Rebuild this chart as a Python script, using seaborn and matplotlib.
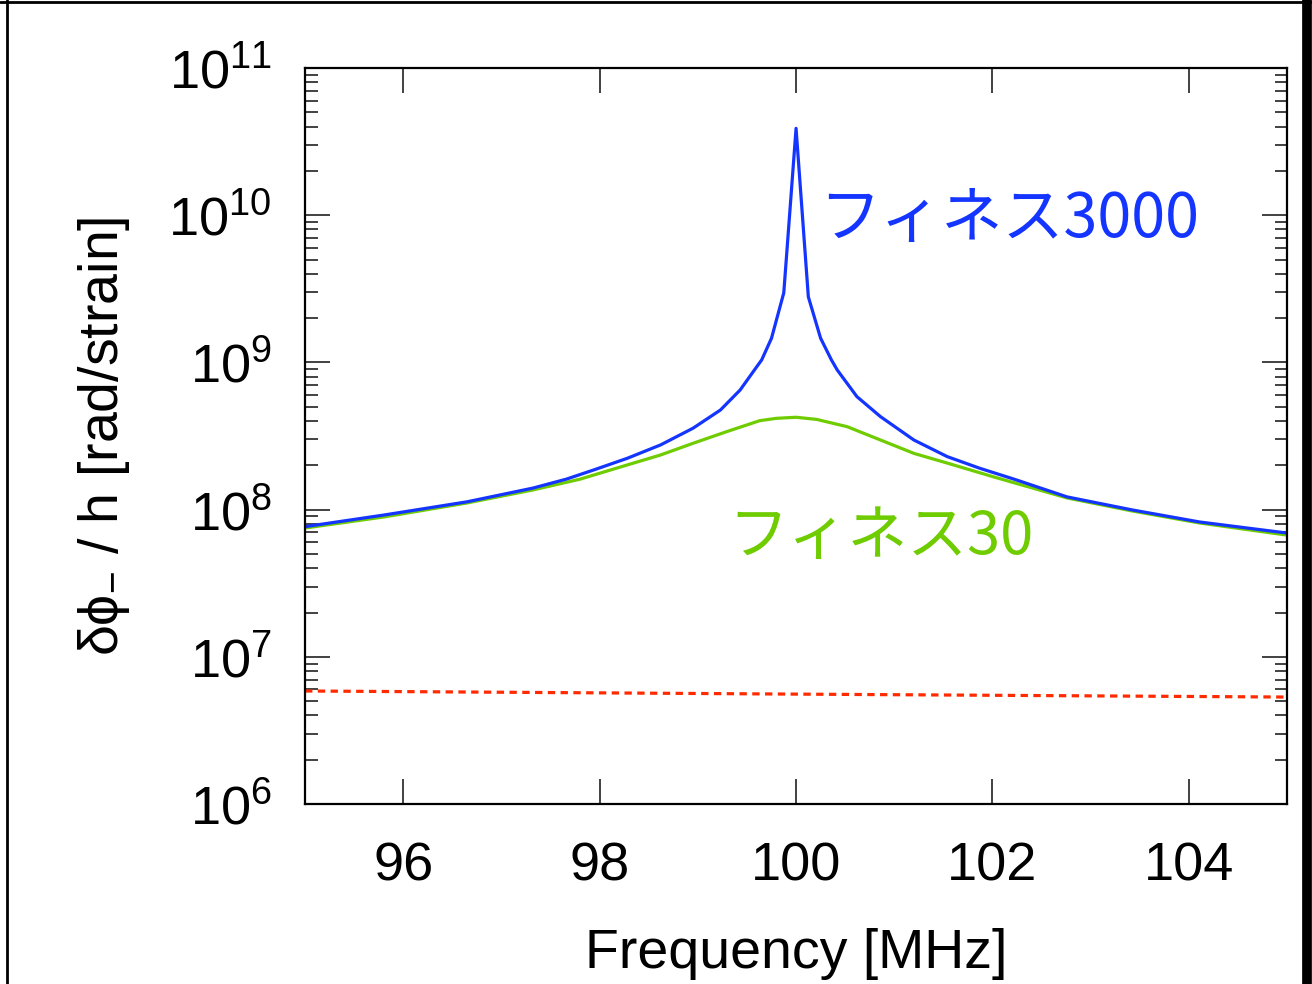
import numpy as np
import pandas as pd
import matplotlib
matplotlib.use("Agg")
import matplotlib.pyplot as plt
import matplotlib.ticker as mticker
from matplotlib.lines import Line2D
import seaborn as sns

# ---- data ----
freq_3000 = [95.0, 95.8, 96.65, 97.32, 97.66, 97.94, 98.28, 98.62, 98.95, 99.23, 99.43,
             99.60, 99.65, 99.75, 99.875, 100.0, 100.125, 100.25, 100.36, 100.42, 100.62,
             100.86, 101.20, 101.54, 101.87, 102.22, 102.76, 103.43, 104.11, 105.0]
resp_3000 = [7.66e7, 9.18e7, 1.13e8, 1.40e8, 1.61e8, 1.86e8, 2.23e8, 2.75e8, 3.57e8, 4.75e8, 6.49e8,
             9.35e8, 1.04e9, 1.46e9, 2.97e9, 3.89e10, 2.79e9, 1.46e9, 1.04e9, 8.87e8, 5.85e8,
             4.28e8, 2.97e8, 2.29e8, 1.91e8, 1.61e8, 1.22e8, 9.93e7, 8.24e7, 6.93e7]

freq_30 = [95.0, 95.8, 96.65, 97.32, 97.80, 98.28, 98.62, 98.95, 99.29, 99.63, 99.80, 100.0,
           100.21, 100.52, 100.86, 101.20, 101.54, 102.01, 102.76, 103.43, 104.11, 105.0]
resp_30 = [7.50e7, 8.91e7, 1.11e8, 1.36e8, 1.61e8, 2.01e8, 2.35e8, 2.82e8, 3.38e8, 4.02e8, 4.17e8, 4.24e8,
           4.10e8, 3.66e8, 2.97e8, 2.41e8, 2.07e8, 1.67e8, 1.20e8, 9.77e7, 8.11e7, 6.71e7]

freq_ref = [95.0, 100.0, 105.0]
resp_ref = [5.86e6, 5.58e6, 5.33e6]

label_3000 = "フィネス3000"
label_30 = "フィネス30"
xticks = [96, 98, 100, 102, 104]

# ---- style ----
sns.set_theme(style="ticks")
plt.rcParams['font.family'] = ['Liberation Sans', 'Noto Sans CJK JP', 'DejaVu Sans']
plt.rcParams['mathtext.fontset'] = 'custom'
plt.rcParams['mathtext.rm'] = 'Liberation Sans'
plt.rcParams['mathtext.it'] = 'Liberation Sans'
plt.rcParams['mathtext.bf'] = 'Liberation Sans:bold'
for k in ['text.color', 'axes.labelcolor', 'xtick.color', 'ytick.color',
          'xtick.labelcolor', 'ytick.labelcolor']:
    plt.rcParams[k] = 'black'

fig = plt.figure(figsize=(13.12, 9.84), dpi=100)
ax = fig.add_axes([0.2325, 0.1829, 0.981 - 0.2325, 0.9309 - 0.1829])

df_3000 = pd.DataFrame({"f": freq_3000, "v": resp_3000})
df_30 = pd.DataFrame({"f": freq_30, "v": resp_30})
df_ref = pd.DataFrame({"f": freq_ref, "v": resp_ref})

sns.lineplot(data=df_30, x="f", y="v", ax=ax, color="#6fcc00", lw=2.3, sort=False)
sns.lineplot(data=df_3000, x="f", y="v", ax=ax, color="#1434ff", lw=2.3, sort=False)
sns.lineplot(data=df_ref, x="f", y="v", ax=ax, color="#ff2a00", lw=2.3, sort=False,
             linestyle=(0, (2.3, 1.7)))

ax.set_yscale("log")
ax.set_xlim(95, 105)
ax.set_ylim(1e6, 1e11)
ax.set_xticks(xticks)
ax.set_xticklabels([str(t) for t in xticks])
ax.xaxis.set_minor_locator(mticker.NullLocator())
ax.yaxis.set_major_locator(mticker.LogLocator(base=10, numticks=10))
ax.yaxis.set_minor_locator(mticker.LogLocator(base=10, subs=np.arange(2, 10), numticks=20))
ax.yaxis.set_major_formatter(mticker.FuncFormatter(lambda v, p: r"$10^{%d}$" % round(np.log10(v))))
ax.yaxis.set_minor_formatter(mticker.NullFormatter())

ax.tick_params(axis="both", which="major", direction="in", length=18, width=1.3,
               labelsize=39, top=True, right=True, color="#333333")
ax.tick_params(axis="x", which="major", pad=27)
ax.tick_params(axis="y", which="major", pad=24)
ax.tick_params(axis="y", which="minor", direction="in", length=9, width=1.3,
               left=True, right=True, color="#333333")
for s in ax.spines.values():
    s.set_linewidth(1.6)
    s.set_color("black")

ax.set_xlabel("Frequency [MHz]", fontsize=40, labelpad=26)
ax.set_ylabel(r"$\mathrm{\delta\phi_{-}}$ / h [rad/strain]", fontsize=40, labelpad=26)

ax.text(100.24, 9.3e9, label_3000, color="#1434ff", fontsize=44, ha="left", va="center",
        family=['Noto Sans CJK JP', 'DejaVu Sans'])
ax.text(99.31, 6.5e7, label_30, color="#6fcc00", fontsize=43, ha="left", va="center",
        family=['Noto Sans CJK JP', 'DejaVu Sans'])

# slide frame around the figure
fig.add_artist(Line2D([0, 1], [0.998, 0.998], transform=fig.transFigure, color="black", lw=2))
fig.add_artist(Line2D([0.005, 0.005], [0, 1], transform=fig.transFigure, color="black", lw=2))
fig.add_artist(Line2D([0.9965, 0.9965], [0, 1], transform=fig.transFigure, color="black", lw=7))

fig.savefig("out.png", dpi=100)
